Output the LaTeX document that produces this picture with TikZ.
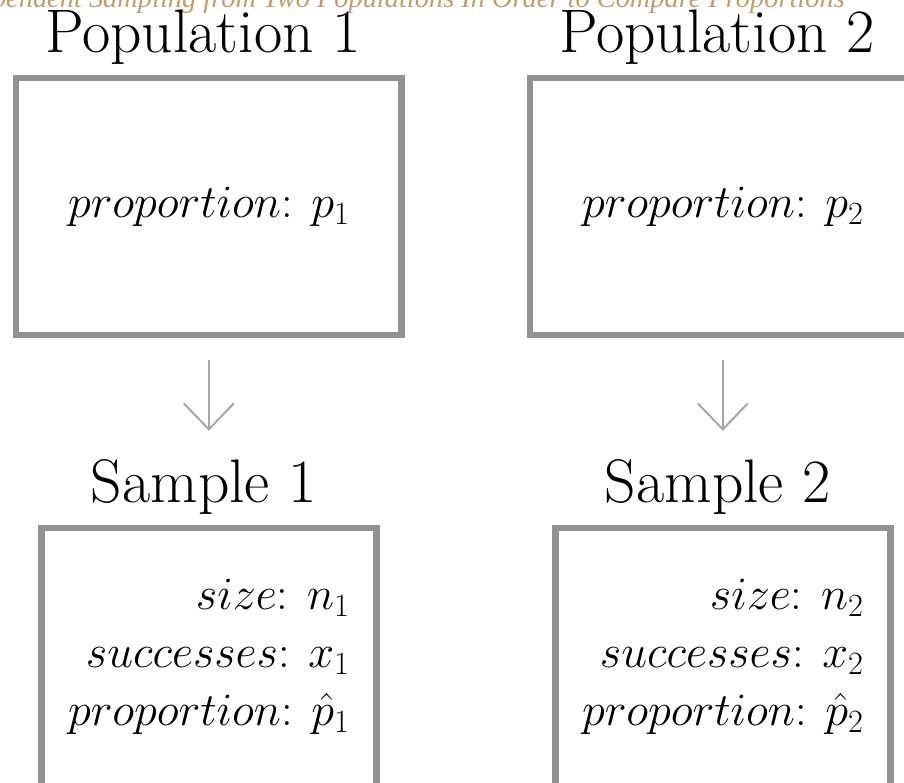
\RequirePackage{fix-cm}
\documentclass[tikz,border=0pt]{standalone}
\usepackage{fontspec}
\newfontfamily\titlefont{Liberation Serif}
\usetikzlibrary{positioning, arrows.meta}
\usepackage{xcolor}
\definecolor{boxgray}{RGB}{146,146,146}
\definecolor{arrowgray}{RGB}{165,165,165}
\definecolor{titletan}{RGB}{196,156,100}

\begin{document}
\begin{tikzpicture}[x=1pt, y=1pt,
  popbox/.style={draw=boxgray, line width=6.5pt, outer sep=0pt, inner sep=0pt,
    minimum width=385.5pt, minimum height=257pt,
    font=\fontsize{46.3}{58}\selectfont},
  sampbox/.style={popbox, minimum width=335pt, minimum height=258pt, align=right},
  headtext/.style={inner sep=0pt, anchor=base, font=\fontsize{61.5}{66}\selectfont},
  flow/.style={draw=arrowgray, line width=2pt,
    -{Straight Barb[length=26pt, width=50pt]},
    shorten <=25pt, shorten >=29pt}]

  \useasboundingbox (0,0) rectangle (904,782);
  \clip (0,0) rectangle (904,782);

  % title, cut at the top
  \node[anchor=base east, inner sep=0pt, text=titletan,
        font=\titlefont\itshape\fontsize{28.4}{32}\selectfont] (title) at (845,774)
    {Independent Sampling from Two Populations In Order to Compare Proportions};

  % ---- populations ----
  \node[popbox] (pop1) at (208.8,575.5) {$proportion$: $p_1$};
  \node[popbox, right=128.5pt of pop1] (pop2) {$proportion$: $p_2$};

  \node[headtext] (pophead1) at ([xshift=-6pt, yshift=25pt]pop1.north) {Population 1};
  \node[headtext] (pophead2) at ([xshift=-6pt, yshift=25pt]pop2.north) {Population 2};

  % ---- samples ----
  \node[sampbox, below=193pt of pop1] (samp1)
    {$size$: $n_1$\\ $successes$: $x_1$\\ $proportion$: $\hat{p}_1$};
  \node[sampbox, below=193pt of pop2] (samp2)
    {$size$: $n_2$\\ $successes$: $x_2$\\ $proportion$: $\hat{p}_2$};

  \node[headtext] (samphead1) at ([xshift=-5pt, yshift=25pt]samp1.north) {Sample 1};
  \node[headtext] (samphead2) at ([xshift=-5pt, yshift=25pt]samp2.north) {Sample 2};

  % sampling arrows
  \draw[flow] (pop1.south) -- (pop1.south |- samphead1.north);
  \draw[flow] (pop2.south) -- (pop2.south |- samphead2.north);

\end{tikzpicture}
\end{document}
